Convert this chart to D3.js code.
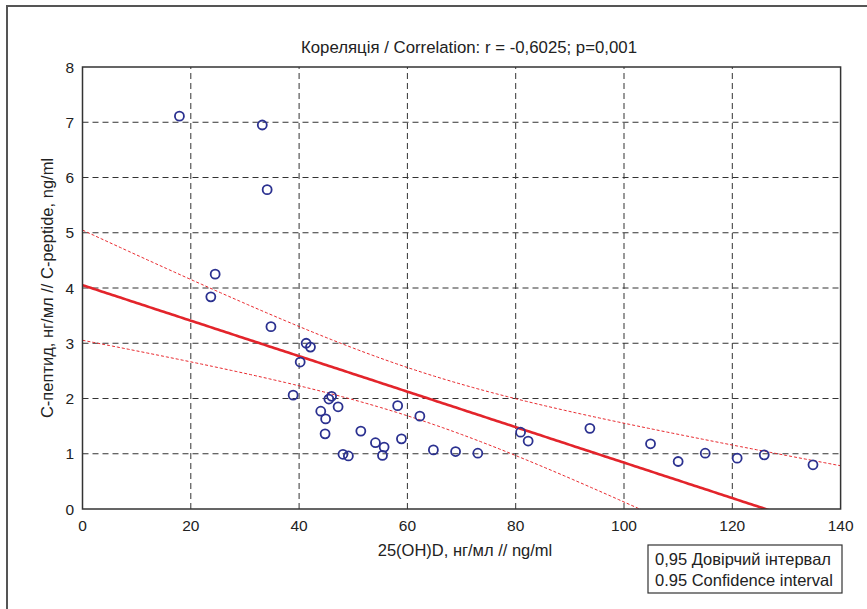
<!DOCTYPE html>
<html>
<head>
<meta charset="utf-8">
<script src="https://cdn.jsdelivr.net/npm/d3@7"></script>
<style>
  body { margin: 0; background: #fff; }
  svg { display: block; font-family: "Liberation Sans", Arial, sans-serif; }
</style>
</head>
<body>
<div id="chart"></div>
<script>
// 25(OH)D, ng/ml
const vitD = [17.9, 33.2, 34.1, 24.5, 23.7, 34.8, 41.3, 42.1, 40.2, 38.9,
  46.0, 45.5, 47.2, 44.0, 44.9, 44.8, 51.4, 48.1, 49.1, 54.1,
  55.7, 55.4, 58.2, 58.9, 62.3, 64.8, 68.9, 73.0, 80.9, 82.3,
  93.7, 104.9, 110.0, 115.0, 120.9, 125.9, 134.9];
// C-peptide, ng/ml
const cPeptide = [7.11, 6.95, 5.78, 4.25, 3.84, 3.30, 3.00, 2.93, 2.66, 2.06,
  2.04, 1.99, 1.85, 1.77, 1.63, 1.36, 1.41, 0.99, 0.96, 1.20,
  1.12, 0.97, 1.87, 1.27, 1.68, 1.07, 1.04, 1.01, 1.39, 1.23,
  1.46, 1.18, 0.86, 1.01, 0.92, 0.98, 0.80];
const xTicks = [0, 20, 40, 60, 80, 100, 120, 140];
const yTicks = [0, 1, 2, 3, 4, 5, 6, 7, 8];
const titleText = "Кореляція / Correlation: r = -0,6025; p=0,001";
const xLabel = "25(OH)D, нг/мл // ng/ml";
const yLabel = "С-пептид, нг/мл // C-peptide, ng/ml";
const legendLines = ["0,95 Довірчий інтервал", "0.95 Confidence interval"];

const width = 867, height = 609;
const margin = { top: 67, right: 27, bottom: 100, left: 82.5 };

const svg = d3.select("#chart").append("svg")
  .attr("width", width)
  .attr("height", height);

// outer frame
svg.append("rect")
  .attr("x", 7).attr("y", 6)
  .attr("width", width + 20).attr("height", height + 20)
  .attr("fill", "none")
  .attr("stroke", "#555")
  .attr("stroke-width", 2);

const x = d3.scaleLinear().domain([0, 140]).range([margin.left, 840.6]);
const y = d3.scaleLinear().domain([0, 8]).range([509, margin.top]);

// grid
svg.append("g").selectAll("line")
  .data(xTicks.filter(t => t > 0 && t < 140))
  .enter().append("line")
  .attr("x1", d => x(d)).attr("x2", d => x(d))
  .attr("y1", y(0)).attr("y2", y(8))
  .attr("stroke", "#333").attr("stroke-width", 1)
  .attr("stroke-dasharray", "6,4");

svg.append("g").selectAll("line")
  .data(yTicks.filter(t => t > 0 && t < 8))
  .enter().append("line")
  .attr("x1", x(0)).attr("x2", x(140))
  .attr("y1", d => y(d)).attr("y2", d => y(d))
  .attr("stroke", "#333").attr("stroke-width", 1)
  .attr("stroke-dasharray", "6,4");

// regression + 95% CI of the mean
const n = vitD.length;
const mx = d3.mean(vitD), my = d3.mean(cPeptide);
let sxx = 0, sxy = 0;
vitD.forEach((v, i) => {
  sxx += (v - mx) * (v - mx);
  sxy += (v - mx) * (cPeptide[i] - my);
});
const slope = sxy / sxx;
const intercept = my - slope * mx;
let sse = 0;
vitD.forEach((v, i) => {
  const r = cPeptide[i] - (intercept + slope * v);
  sse += r * r;
});
const s = Math.sqrt(sse / (n - 2));
const tCrit = 2.03;
const xs = d3.range(0, 140.5, 0.5);
const ci = xs.map(v => {
  const fit = intercept + slope * v;
  const h = tCrit * s * Math.sqrt(1 / n + (v - mx) * (v - mx) / sxx);
  return { v, fit, lo: fit - h, hi: fit + h };
});

svg.append("clipPath").attr("id", "plotClip")
  .append("rect")
  .attr("x", x(0)).attr("y", y(8))
  .attr("width", x(140) - x(0)).attr("height", y(0) - y(8));

const plot = svg.append("g").attr("clip-path", "url(#plotClip)");

const lineOf = key => d3.line().x(d => x(d.v)).y(d => y(d[key]));

plot.append("path").datum(ci)
  .attr("d", lineOf("hi"))
  .attr("fill", "none").attr("stroke", "#e8262b")
  .attr("stroke-width", 1).attr("stroke-dasharray", "3,2");
plot.append("path").datum(ci)
  .attr("d", lineOf("lo"))
  .attr("fill", "none").attr("stroke", "#e8262b")
  .attr("stroke-width", 1).attr("stroke-dasharray", "3,2");
plot.append("path").datum(ci)
  .attr("d", lineOf("fit"))
  .attr("fill", "none").attr("stroke", "#e3242b")
  .attr("stroke-width", 2.6);

// points
svg.append("g").selectAll("circle")
  .data(vitD.map((v, i) => [v, cPeptide[i]]))
  .enter().append("circle")
  .attr("cx", d => x(d[0]))
  .attr("cy", d => y(d[1]))
  .attr("r", 4.5)
  .attr("fill", "none")
  .attr("stroke", "#2b3190")
  .attr("stroke-width", 1.8);

// plot box
svg.append("rect")
  .attr("x", x(0)).attr("y", y(8))
  .attr("width", x(140) - x(0)).attr("height", y(0) - y(8))
  .attr("fill", "none")
  .attr("stroke", "#333")
  .attr("stroke-width", 1.5);

// tick labels
svg.append("g").selectAll("text")
  .data(xTicks)
  .enter().append("text")
  .attr("x", d => x(d))
  .attr("y", 531)
  .attr("text-anchor", "middle")
  .style("font-size", "15.5px")
  .style("fill", "#222")
  .text(d => d);

svg.append("g").selectAll("text")
  .data(yTicks)
  .enter().append("text")
  .attr("x", 74)
  .attr("y", d => y(d) + 5.5)
  .attr("text-anchor", "end")
  .style("font-size", "15.5px")
  .style("fill", "#222")
  .text(d => d);

svg.append("text")
  .attr("x", 469).attr("y", 53)
  .attr("text-anchor", "middle")
  .style("font-size", "16.8px")
  .style("fill", "#222")
  .text(titleText);

svg.append("text")
  .attr("x", 465).attr("y", 556)
  .attr("text-anchor", "middle")
  .style("font-size", "16.5px")
  .style("fill", "#222")
  .text(xLabel);

svg.append("text")
  .attr("transform", `translate(53, ${(y(0) + y(8)) / 2}) rotate(-90)`)
  .attr("text-anchor", "middle")
  .style("font-size", "16.5px")
  .style("fill", "#222")
  .text(yLabel);

// legend
svg.append("rect")
  .attr("x", 648).attr("y", 545)
  .attr("width", 194).attr("height", 48)
  .attr("fill", "#fff")
  .attr("stroke", "#333")
  .attr("stroke-width", 1.2);

svg.append("g").selectAll("text")
  .data(legendLines)
  .enter().append("text")
  .attr("x", 655)
  .attr("y", (d, i) => 565 + i * 21)
  .style("font-size", "16.5px")
  .style("fill", "#222")
  .text(d => d);
</script>
</body>
</html>
